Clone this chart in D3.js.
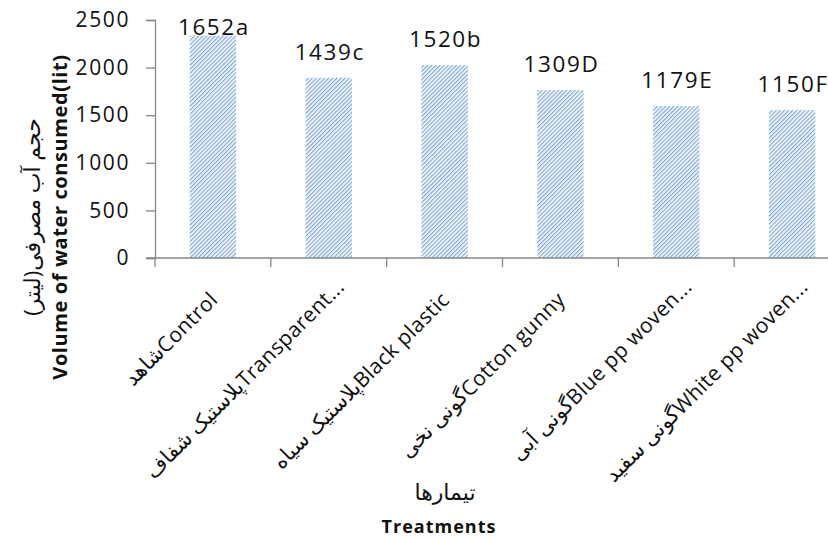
<!DOCTYPE html>
<html>
<head>
<meta charset="utf-8">
<script src="https://cdn.jsdelivr.net/npm/d3@7"></script>
<style>
  html, body { margin: 0; padding: 0; background: #fff; }
  svg { display: block; }
  text { font-family: "Open Sans", "DejaVu Sans", sans-serif; fill: #111; }
</style>
</head>
<body>
<svg id="chart" width="828" height="538"></svg>
<script>
// ---- data ----
const categories = [
  "شاهدControl",
  "پلاستیک شفافTransparent...",
  "پلاستیک سیاهBlack plastic",
  "گونی نخیCotton gunny",
  "گونی آبیBlue pp woven...",
  "گونی سفیدWhite pp woven..."
];
const values = [2335, 1893, 2027, 1764, 1596, 1553];
const valueLabels = ["1652a", "1439c", "1520b", "1309D", "1179E", "1150F"];
const yTicks = [0, 500, 1000, 1500, 2000, 2500];
const yTitleEn = "Volume of water consumed(lit)";
const yTitleFa = "حجم آب مصرفی(لیتر)";
const xTitleEn = "Treatments";
const xTitleFa = "تیمارها";

(function () {
// ---- layout ----
const svg = d3.select("#chart");
const mLeft = 155, mRight = 850, mTop = 20, mBottom = 258;
const axisColor = "#888888";
const ink = "#1a1a1a";

const x = d3.scaleBand().domain(categories).range([mLeft, mRight])
  .paddingInner(0.6).paddingOuter(0.3);
const y = d3.scaleLinear().domain([0, 2500]).range([mBottom, mTop]);

// hatch pattern
const defs = svg.append("defs");
const pat = defs.append("pattern")
  .attr("id", "hatch")
  .attr("patternUnits", "userSpaceOnUse")
  .attr("width", 2.9).attr("height", 10)
  .attr("patternTransform", "rotate(45)");
pat.append("rect").attr("width", 2.9).attr("height", 10).attr("fill", "#ffffff");
pat.append("line").attr("x1", 0.7).attr("x2", 0.7).attr("y1", 0).attr("y2", 10)
  .attr("stroke", "#6494d6").attr("stroke-width", 1.05);

// bars
svg.append("g").selectAll("rect").data(categories).join("rect")
  .attr("x", d => x(d))
  .attr("width", x.bandwidth())
  .attr("y", (d, i) => y(values[i]))
  .attr("height", (d, i) => y(0) - y(values[i]))
  .attr("fill", "url(#hatch)");

// value labels
svg.append("g").selectAll("text").data(categories).join("text")
  .attr("x", d => x(d) + x.bandwidth() / 2 + 1)
  .attr("y", (d, i) => Math.max(y(values[i]) - 18, 35))
  .attr("text-anchor", "middle")
  .attr("font-size", 22.5)
  .attr("letter-spacing", 1.6)
  .attr("fill", ink)
  .text((d, i) => valueLabels[i]);

// y axis
const yAxis = d3.axisLeft(y).tickValues(yTicks).tickFormat(d3.format("d"))
  .tickSize(9).tickPadding(16);
const gy = svg.append("g").attr("transform", `translate(${mLeft},0)`).call(yAxis);
gy.select(".domain").attr("stroke", axisColor).attr("stroke-width", 1.3);
gy.selectAll(".tick line").attr("stroke", axisColor).attr("stroke-width", 1.3);
gy.selectAll(".tick text").attr("font-size", 21).attr("font-family", "Open Sans")
  .attr("letter-spacing", 1.6).attr("fill", ink);

// x axis line and boundary ticks
const step = x.step();
const bx = i => i < categories.length
  ? x(categories[i]) - x.paddingInner() * step / 2
  : x(categories[i - 1]) + x.bandwidth() + x.paddingInner() * step / 2;
svg.append("line")
  .attr("x1", mLeft - 9).attr("x2", 828)
  .attr("y1", mBottom).attr("y2", mBottom)
  .attr("stroke", axisColor).attr("stroke-width", 1.3);
svg.append("g").selectAll("line").data(d3.range(categories.length + 1)).join("line")
  .attr("x1", bx).attr("x2", bx)
  .attr("y1", mBottom).attr("y2", mBottom + 9)
  .attr("stroke", axisColor).attr("stroke-width", 1.3);

// x category labels (rotated)
svg.append("g").selectAll("text").data(categories).join("text")
  .attr("transform", d => {
    const cx = x(d) + x.bandwidth() / 2;
    const trunc = d.endsWith("...");
    const ax = trunc ? cx + 17 : cx + 6;
    const ay = trunc ? 288 : 301;
    return `translate(${ax},${ay}) rotate(-45)`;
  })
  .attr("text-anchor", "end")
  .attr("font-size", 21)
  .attr("letter-spacing", 0.4)
  .attr("fill", ink)
  .text(d => d);

// y titles
svg.append("text")
  .attr("transform", "translate(67,217) rotate(-90)")
  .attr("text-anchor", "middle")
  .attr("font-size", 20).attr("font-weight", "bold")
  .attr("letter-spacing", 0.6)
  .attr("fill", ink)
  .text(yTitleEn);
svg.append("text")
  .attr("transform", "translate(40,217) rotate(-90)")
  .attr("text-anchor", "middle")
  .attr("font-size", 22)
  .attr("font-family", "DejaVu Sans")
  .attr("fill", ink)
  .text(yTitleFa);

// x titles
svg.append("text")
  .attr("x", 445).attr("y", 500)
  .attr("text-anchor", "middle")
  .attr("font-size", 22).attr("font-family", "DejaVu Sans")
  .attr("fill", ink)
  .text(xTitleFa);
svg.append("text")
  .attr("x", 439).attr("y", 533)
  .attr("text-anchor", "middle")
  .attr("font-size", 18).attr("font-weight", "bold")
  .attr("letter-spacing", 1)
  .attr("fill", ink)
  .text(xTitleEn);
})();
</script>
</body>
</html>
